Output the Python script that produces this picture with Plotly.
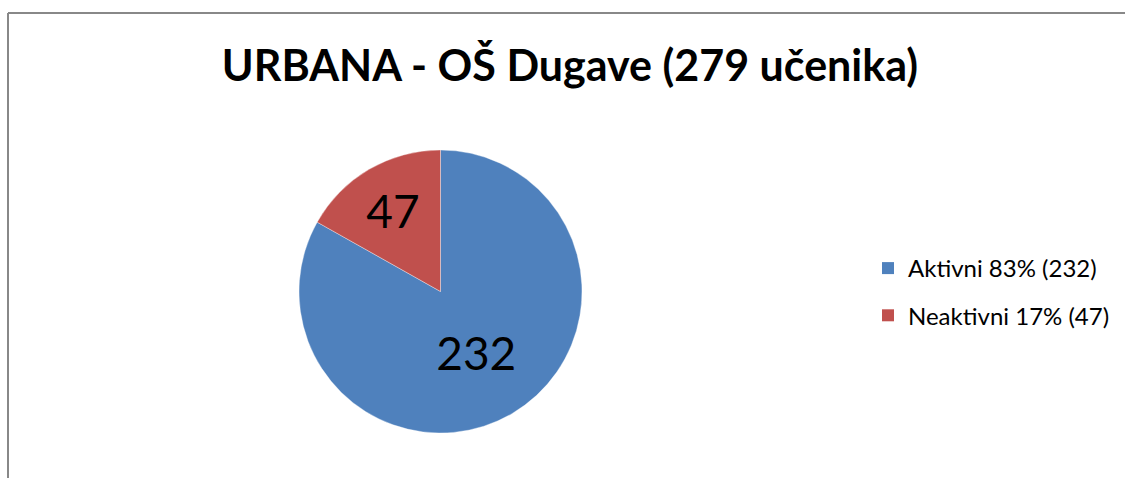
import plotly.graph_objects as go

labels = ["Aktivni 83% (232)", "Neaktivni 17% (47)"]
values = [232, 47]
colors = ["#4F81BD", "#C0504D"]
title = "URBANA - OŠ Dugave (279 učenika)"

W, H = 1125, 478
FONT = "Lato, Open Sans, sans-serif"

fig = go.Figure()

fig.add_trace(go.Pie(
    labels=labels,
    values=values,
    text=[str(v) for v in values],
    textinfo="text",
    textposition="inside",
    insidetextorientation="horizontal",
    textfont=dict(family=FONT, size=46, color="black"),
    marker=dict(colors=colors, line=dict(color="rgba(255,255,255,0.6)", width=0.6)),
    sort=False,
    direction="clockwise",
    rotation=0,
    showlegend=False,
    hoverinfo="label+value",
    domain=dict(x=[299 / W, 582 / W], y=[(H - 433) / H, (H - 150) / H]),
))

# legend entries (one per category), so the entry spacing can be set
for lab, col in zip(labels, colors):
    fig.add_trace(go.Scatter(
        x=[None], y=[None], mode="markers", name=lab,
        legendgroup=lab,
        marker=dict(symbol="square", size=12, color=col, line=dict(width=0)),
        hoverinfo="skip",
    ))

fig.update_layout(
    width=W, height=H,
    margin=dict(l=0, r=0, t=0, b=0),
    paper_bgcolor="white",
    plot_bgcolor="white",
    xaxis=dict(visible=False),
    yaxis=dict(visible=False),
    title=dict(
        text="<b>" + title + "</b>",
        x=570 / W, xanchor="center",
        y=1 - 66 / H, yanchor="middle",
        font=dict(family=FONT, size=43, color="black"),
    ),
    legend=dict(
        x=868 / W, xanchor="left",
        y=1 - 292 / H, yanchor="middle",
        font=dict(family=FONT, size=24, color="black"),
        itemsizing="constant",
        tracegroupgap=13,
        bgcolor="rgba(0,0,0,0)",
    ),
    shapes=[
        dict(type="line", xref="paper", yref="paper",
             x0=8 / W, x1=1.0, y0=1 - 13 / H, y1=1 - 13 / H,
             line=dict(color="#888888", width=2)),
        dict(type="line", xref="paper", yref="paper",
             x0=8 / W, x1=8 / W, y0=1 - 13 / H, y1=0,
             line=dict(color="#888888", width=2)),
    ],
)

fig.write_html(
    "out.html",
    config={"displayModeBar": False},
    post_script="document.body.style.margin='0';document.body.style.overflow='hidden';",
)
